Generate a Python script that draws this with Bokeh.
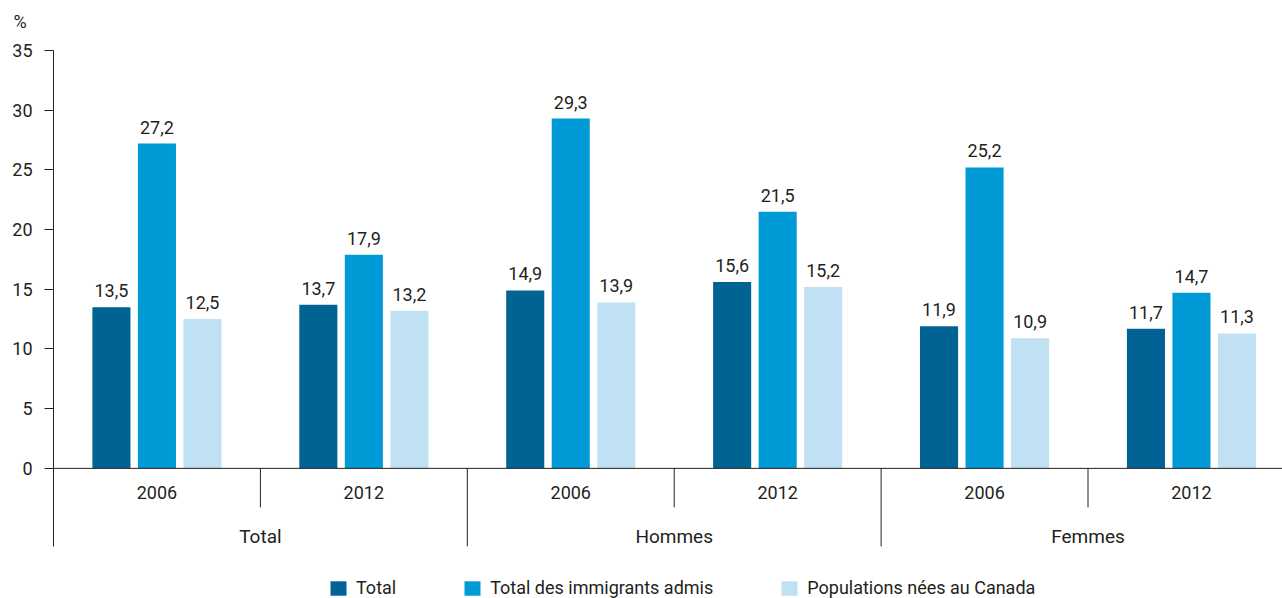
from bokeh.plotting import figure
from bokeh.models import Range1d, FixedTicker, ColumnDataSource, Legend, LegendItem
from bokeh.core.properties import value
from bokeh.embed import file_html
from bokeh.resources import INLINE

categories = ["Total", "Hommes", "Femmes"]
years = ["2006", "2012"]
series_names = ["Total", "Total des immigrants admis", "Populations nées au Canada"]
total = [13.5, 13.7, 14.9, 15.6, 11.9, 11.7]
immigrants = [27.2, 17.9, 29.3, 21.5, 25.2, 14.7]
canada = [12.5, 13.2, 13.9, 15.2, 10.9, 11.3]
y_ticks = [0, 5, 10, 15, 20, 25, 30, 35]

colors = ["#006394", "#009ad6", "#c0e1f3"]
FONT = "Roboto"
TXT = "#231f20"
Y_LOW = -6.53

p = figure(width=1282, height=598, output_backend="svg", toolbar_location=None,
           x_range=Range1d(0, 5.94), y_range=Range1d(-10.90, 35.92),
           min_border_left=53, min_border_right=0, min_border_top=39, min_border_bottom=0)
p.outline_line_color = None
p.xgrid.visible = False
p.ygrid.visible = False
p.xaxis.visible = False
ya = p.yaxis[0]
ya.ticker = FixedTicker(ticks=y_ticks)
ya.bounds = (Y_LOW, 35)
ya.minor_tick_line_color = None
ya.major_tick_in = 0
ya.major_tick_out = 9
ya.axis_line_color = TXT
ya.major_tick_line_color = TXT
ya.major_label_text_font = FONT
ya.major_label_text_font_size = "18px"
ya.major_label_text_color = TXT
ya.major_label_standoff = 12

# "%" unit as title
p.title.text = "%"
p.title.align = "left"
p.title.offset = -40
p.title.text_font = FONT
p.title.text_font_size = "18px"
p.title.text_font_style = "normal"
p.title.text_color = TXT
p.title.standoff = 15

n = len(total)
offsets = [-0.22, 0.0, 0.22]
bw = 0.184
renderers = []
for k, vals in enumerate([total, immigrants, canada]):
    xs = [i + 0.5 + offsets[k] for i in range(n)]
    src = ColumnDataSource(dict(x=xs, top=vals, lab=[f"{v:.1f}".replace(".", ",") for v in vals]))
    r = p.vbar(x="x", top="top", bottom=0, width=bw, source=src, fill_color=colors[k], line_color=None)
    renderers.append(r)
    p.text(x="x", y="top", text="lab", source=src, text_align="center", text_baseline="bottom",
           y_offset=-10, text_font=value(FONT), text_font_size="18px", text_color=TXT)

# baseline and separators
p.segment(x0=[0], y0=[0], x1=[5.94], y1=[0], line_color=TXT, line_width=1)
p.segment(x0=[1, 3, 5], y0=[0, 0, 0], x1=[1, 3, 5], y1=[-3.27] * 3, line_color=TXT, line_width=1)
p.segment(x0=[2, 4], y0=[0, 0], x1=[2, 4], y1=[Y_LOW] * 2, line_color=TXT, line_width=1)

# year labels
year_x = [i + 0.5 for i in range(n)]
year_lab = [years[i % 2] for i in range(n)]
p.text(x=year_x, y=[-2.0] * n, text=year_lab, text_align="center", text_baseline="middle",
       text_font=value(FONT), text_font_size="18px", text_color=TXT)
cat_x = [2 * j + 1 for j in range(len(categories))]
p.text(x=cat_x, y=[-5.7] * len(categories), text=categories, text_align="center", text_baseline="middle",
       text_font=value(FONT), text_font_size="19px", text_color=TXT)

legend = Legend(items=[LegendItem(label=series_names[k], renderers=[renderers[k]]) for k in range(3)],
                orientation="horizontal", location=(275, 0), glyph_width=20, glyph_height=18,
                label_standoff=8, spacing=66, padding=0, margin=0,
                label_text_font=FONT, label_text_font_size="18px", label_text_color=TXT,
                border_line_color=None, background_fill_alpha=0)
p.add_layout(legend, "center")

open("out.html", "w").write(file_html(p, INLINE))
